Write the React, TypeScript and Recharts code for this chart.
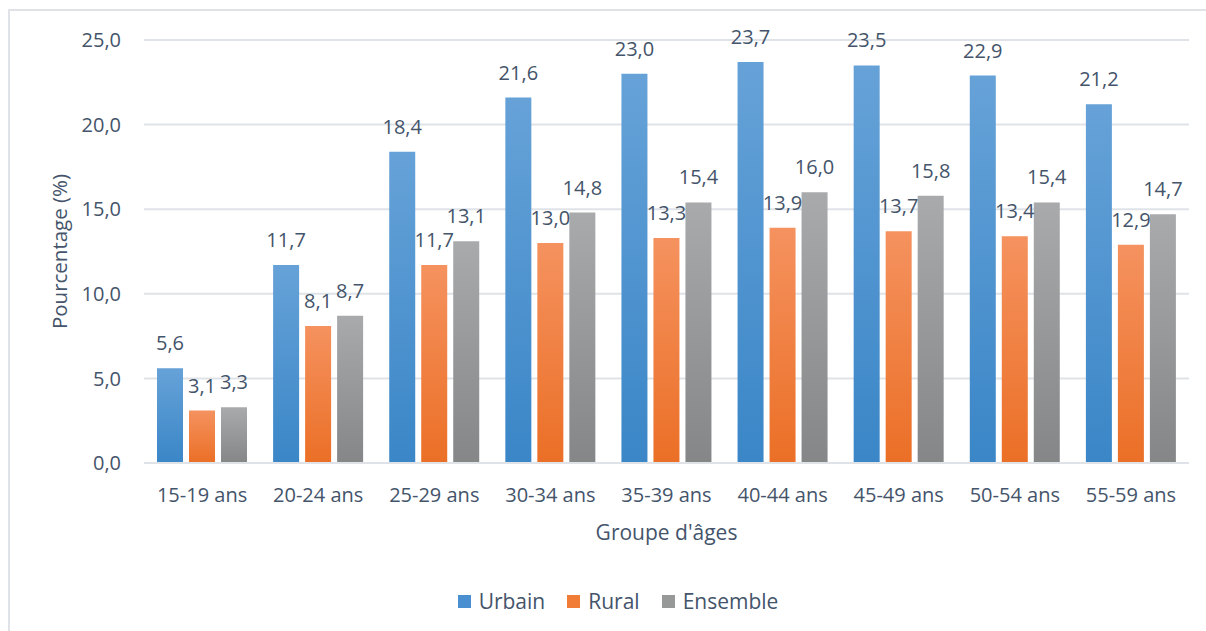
import React from 'react'
import {
    BarChart,
    Bar,
    XAxis,
    YAxis,
    CartesianGrid,
    Legend,
    LabelList,
    Label,
    ReferenceLine,
} from 'recharts'

const groupes = [
    '15-19 ans',
    '20-24 ans',
    '25-29 ans',
    '30-34 ans',
    '35-39 ans',
    '40-44 ans',
    '45-49 ans',
    '50-54 ans',
    '55-59 ans',
]
const urbain = [5.6, 11.7, 18.4, 21.6, 23.0, 23.7, 23.5, 22.9, 21.2]
const rural = [3.1, 8.1, 11.7, 13.0, 13.3, 13.9, 13.7, 13.4, 12.9]
const ensemble = [3.3, 8.7, 13.1, 14.8, 15.4, 16.0, 15.8, 15.4, 14.7]
const yTicks = [0, 5, 10, 15, 20, 25]

const data = groupes.map((g, i) => ({
    groupe: g,
    Urbain: urbain[i],
    Rural: rural[i],
    Ensemble: ensemble[i],
}))

const textColor = '#44546a'
const font = '"Open Sans", sans-serif'
const fmt = (v: any) => Number(v).toFixed(1).replace('.', ',')

const legendItems = [
    { name: 'Urbain', color: '#4a90d0' },
    { name: 'Rural', color: '#f07c36' },
    { name: 'Ensemble', color: '#979999' },
]

const renderLegend = () => (
    <div
        style={{
            display: 'flex',
            justifyContent: 'center',
            alignItems: 'center',
            height: 40,
            paddingLeft: 59,
            fontFamily: font,
            fontSize: 21,
            color: textColor,
        }}
    >
        {legendItems.map((it) => (
            <div
                key={it.name}
                style={{ display: 'flex', alignItems: 'center', marginRight: 22 }}
            >
                <span
                    style={{
                        display: 'inline-block',
                        width: 13,
                        height: 13,
                        background: it.color,
                        marginRight: 8,
                    }}
                />
                <span>{it.name}</span>
            </div>
        ))}
    </div>
)

const App: React.FC = () => {
    return (
        <div
            style={{
                position: 'fixed',
                left: 8,
                top: 9,
                width: 1196,
                height: 620,
                borderLeft: '2px solid #dfe3e8',
                borderTop: '2px solid #dfe3e8',
                background: '#fff',
            }}
        >
            <BarChart
                width={1196}
                height={620}
                data={data}
                margin={{ top: 29, right: 17, left: 0, bottom: 10 }}
                barCategoryGap='11.2%'
                barGap={6}
                style={{ fontFamily: font }}
            >
                <defs>
                    <linearGradient id='gU' x1='0' y1='0' x2='0' y2='1'>
                        <stop offset='0%' stopColor='#66a2d8' />
                        <stop offset='100%' stopColor='#3a86c7' />
                    </linearGradient>
                    <linearGradient id='gR' x1='0' y1='0' x2='0' y2='1'>
                        <stop offset='0%' stopColor='#f5925f' />
                        <stop offset='100%' stopColor='#eb6f26' />
                    </linearGradient>
                    <linearGradient id='gE' x1='0' y1='0' x2='0' y2='1'>
                        <stop offset='0%' stopColor='#a8aaab' />
                        <stop offset='100%' stopColor='#848687' />
                    </linearGradient>
                </defs>
                <CartesianGrid
                    vertical={false}
                    stroke='#dfe3e8'
                    strokeWidth={2}
                />
                <XAxis
                    dataKey='groupe'
                    height={118}
                    axisLine={false}
                    tickLine={false}
                    tickSize={0}
                    tickMargin={25}
                    interval={0}
                    tick={{ fill: textColor, fontSize: 20, fontFamily: font }}
                >
                    <Label
                        value="Groupe d'âges"
                        position='insideBottom'
                        offset={41}
                        fill={textColor}
                        fontSize={21}
                        fontFamily={font}
                    />
                </XAxis>
                <YAxis
                    width={134}
                    domain={[0, 25]}
                    ticks={yTicks}
                    tickFormatter={fmt}
                    axisLine={false}
                    tickLine={false}
                    tickSize={0}
                    tickMargin={23}
                    tick={{ fill: textColor, fontSize: 20, fontFamily: font }}
                >
                    <Label
                        value='Pourcentage (%)'
                        position='center'
                        angle={-90}
                        dx={-17}
                        fill={textColor}
                        fontSize={20.5}
                        fontFamily={font}
                    />
                </YAxis>
                <Legend verticalAlign='bottom' height={40} content={renderLegend} />
                <Bar dataKey='Urbain' fill='url(#gU)' isAnimationActive={false}>
                    <LabelList
                        dataKey='Urbain'
                        position='top'
                        offset={18}
                        formatter={fmt}
                        fill={textColor}
                        fontSize={20}
                        fontFamily={font}
                    />
                </Bar>
                <Bar dataKey='Rural' fill='url(#gR)' isAnimationActive={false}>
                    <LabelList
                        dataKey='Rural'
                        position='top'
                        offset={18}
                        formatter={fmt}
                        fill={textColor}
                        fontSize={20}
                        fontFamily={font}
                    />
                </Bar>
                <Bar dataKey='Ensemble' fill='url(#gE)' isAnimationActive={false}>
                    <LabelList
                        dataKey='Ensemble'
                        position='top'
                        offset={18}
                        formatter={fmt}
                        fill={textColor}
                        fontSize={20}
                        fontFamily={font}
                    />
                </Bar>
                <ReferenceLine y={0} stroke='#dfe3e8' strokeWidth={2} />
            </BarChart>
        </div>
    )
}

export default App
